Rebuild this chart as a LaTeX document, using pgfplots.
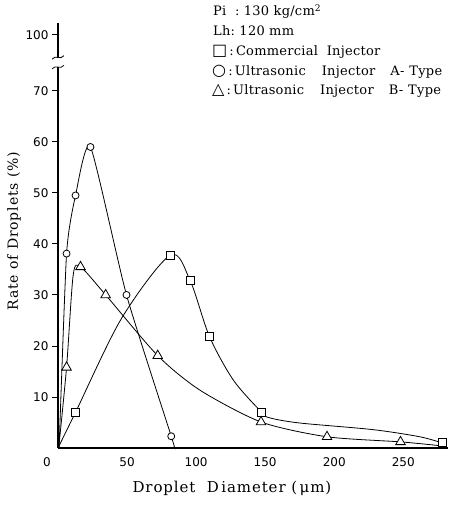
\documentclass[border=0pt]{standalone}
\usepackage{fontspec}
\usepackage{pgfplots}
\pgfplotsset{compat=1.18}
\setmainfont{DejaVu Serif}
\newfontfamily\lblfont[LetterSpace=6]{DejaVu Serif}
\newfontfamily\annfont[LetterSpace=2]{DejaVu Serif}
\newfontfamily\tickfont{DejaVu Sans}
\newfontfamily\symfont{DejaVu Sans}
\begin{document}
\begin{tikzpicture}
\begin{axis}[
  at={(58pt,58pt)}, anchor=south west,
  scale only axis, width=390pt, height=425pt,
  xmin=0, xmax=282.4, ymin=0, ymax=83.3,
  axis lines=left, axis line style={-, line width=1.1pt},
  clip=false,
  xtick={50,100,150,200,250},
  ytick={10,20,30,40,50,60,70,81},
  yticklabels={10,20,30,40,50,60,70,100},
  tick align=outside, major tick length=6pt,
  major x tick style=transparent,
  tick style={line width=0.9pt, black},
  ticklabel style={font=\tickfont\fontsize{12}{12}\selectfont},
  /pgf/number format/assume math mode=true,
  xlabel={Droplet\ \ D\,iameter\ (\,μm)},
  ylabel={Rate\ of\ Droplets\ (\%)},
  xlabel style={font=\lblfont\fontsize{15}{15}\selectfont, at={(axis description cs:0.446,-0.095)}, anchor=center},
  ylabel style={font=\lblfont\fontsize{14}{14}\selectfont, at={(axis description cs:-0.113,0.51)}, anchor=center},
]
% Ultrasonic A-Type (circles)
\addplot[smooth, tension=0.35, line width=0.8pt, no marks] coordinates {
  (0.8,0) (6.2,38.1) (12.7,49.5) (23.5,59.0) (49.6,30.0) (82,2.3) (84,0.4)};
% Commercial (squares)
\addplot[smooth, line width=0.8pt, no marks] coordinates {
  (0,0) (12.7,7.0) (46,25.4) (81.3,37.8) (95.7,32.8) (109.6,21.9) (127,13.3) (147.5,7.0) (153.5,5.9) (175,4.9) (228,3.6) (262,2.2) (278,1.0)};
% Ultrasonic B-Type (triangles)
\addplot[smooth, tension=0.45, line width=0.8pt, no marks] coordinates {
  (0.5,0) (6.2,15.8) (11,33.9) (16.3,35.5) (34.5,30) (72.2,18.1) (103,11.3) (147,5.1) (194.8,2.2) (248,1.2) (275,0.5)};

\addplot[only marks, mark=*, mark size=3.5pt, mark options={fill=white, draw=black, line width=0.8pt}] coordinates {
  (6.2,38.1) (12.7,49.5) (23.5,59.0) (49.6,30.0) (82,2.3)};
\addplot[only marks, mark=square*, mark size=4pt, mark options={fill=white, draw=black, line width=0.8pt}] coordinates {
  (12.7,7.0) (81.3,37.8) (95.7,32.8) (109.6,21.9) (147.5,7.0) (278,1.0)};
\addplot[only marks, mark=triangle*, mark size=5.5pt, mark options={fill=white, draw=black, line width=0.8pt}] coordinates {
  (6.2,15.8) (16.3,35.5) (34.5,30) (72.2,18.1) (147,5.1) (194.8,2.2) (248,1.2)};

% axis break
\fill[white] ([xshift=-6pt]axis cs:0,74.7) rectangle ([xshift=6pt]axis cs:0,76.5);
\draw[line width=0.8pt] ([xshift=-6pt]axis cs:0,74.3) .. controls ([xshift=-2pt]axis cs:0,75.3) and ([xshift=2pt]axis cs:0,74.0) .. ([xshift=6pt]axis cs:0,75.0);
\draw[line width=0.8pt] ([xshift=-6pt]axis cs:0,76.2) .. controls ([xshift=-2pt]axis cs:0,77.2) and ([xshift=2pt]axis cs:0,75.9) .. ([xshift=6pt]axis cs:0,76.9);
\node[font=\tickfont\fontsize{12}{12}\selectfont] at ([xshift=-11pt,yshift=-14pt]axis cs:0,0) {0};
\end{axis}
\begin{scope}[every node/.style={anchor=base west, inner sep=0pt, font=\annfont\fontsize{13}{13}\selectfont}]
\node at (213pt,490pt) {Pi\ \ :\ 130 kg/cm\textsuperscript{2}};
\node at (213pt,470pt) {Lh:\ 120 mm};
\node at (212pt,450pt) {{\symfont\fontsize{16}{16}\selectfont □}\,:\,Commercial\ \ Injector};
\node at (212pt,430pt) {{\symfont\fontsize{16}{16}\selectfont ○}\,:\,Ultrasonic\hspace{16pt}Injector\hspace{15pt}A-\hspace{5pt}Type};
\node at (212pt,411pt) {{\symfont\fontsize{16}{16}\selectfont △}\,:\,Ultrasonic\hspace{16pt}Injector\hspace{15pt}B-\hspace{5pt}Type};
\end{scope}
\pgfresetboundingbox
\useasboundingbox (0,0) rectangle (448pt,506pt);
\end{tikzpicture}
\end{document}
